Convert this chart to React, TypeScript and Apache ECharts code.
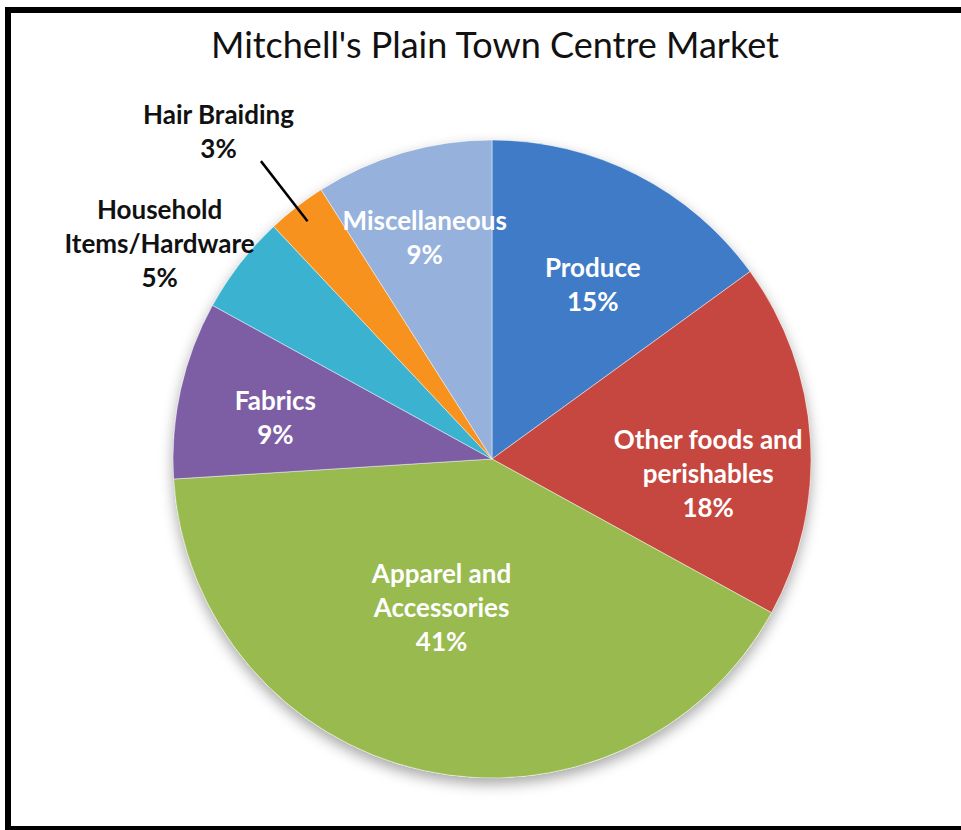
import React, { useEffect, useRef } from 'react';
import * as echarts from 'echarts';

const titleText = "Mitchell's Plain Town Centre Market";
const categories = [
  'Produce',
  'Other foods and\nperishables',
  'Apparel and\nAccessories',
  'Fabrics',
  'Household\nItems/Hardware',
  'Hair Braiding',
  'Miscellaneous',
];
const values = [15, 18, 41, 9, 5, 3, 9];
const sliceColors = ['#3F7BC6', '#C5473F', '#98BA4F', '#7D5EA5', '#3BB3D0', '#F7921E', '#96B2DC'];
const labelColors = ['#fff', '#fff', '#fff', '#fff', '#111', '#111', '#fff'];
// label offsets from the library's default label anchor
const labelOffsets = [
  [27, -30],
  [54, 24],
  [-15, -11],
  [-58, -7],
  [-204, -116],
  [-78, -76],
  [-22, -66],
];
const LEADER_INDEX = 5;
const FONT = 'Lato';

export default function App() {
  const ref = useRef<HTMLDivElement>(null);
  useEffect(() => {
    if (!ref.current) return;
    const chart = echarts.init(ref.current, null, { renderer: 'svg' });
    const pieBase = {
      type: 'pie',
      center: [492, 459],
      radius: 319,
      startAngle: 90,
      clockwise: true,
      avoidLabelOverlap: false,
      percentPrecision: 0,
    };
    const labelData = categories.map((name, i) => {
      const item: any = {
        name,
        value: values[i],
        label: { color: labelColors[i] },
      };
      if (i === LEADER_INDEX) {
        item.label.position = 'outside';
        item.labelLine = { show: true, lineStyle: { color: '#000', width: 2.5 } };
      }
      return item;
    });
    const option: any = {
      animation: false,
      backgroundColor: '#fff',
      title: {
        text: titleText,
        left: 490,
        top: 21,
        textAlign: 'center',
        textStyle: { fontFamily: FONT, fontSize: 36, fontWeight: 'normal', color: '#111' },
      },
      graphic: [
        {
          type: 'rect',
          z: 100,
          shape: { x: 8, y: 10, width: 1000, height: 819 },
          style: { fill: 'none', stroke: '#000', lineWidth: 6 },
        },
      ],
      series: [
        {
          ...pieBase,
          silent: true,
          z: 1,
          label: { show: false },
          labelLine: { show: false },
          itemStyle: {
            color: '#fff',
            shadowBlur: 14,
            shadowOffsetY: 6,
            shadowColor: 'rgba(0,0,0,0.35)',
          },
          data: values.map((v, i) => ({ name: categories[i], value: v })),
        },
        {
          ...pieBase,
          z: 2,
          label: { show: false },
          labelLine: { show: false },
          itemStyle: { borderColor: 'rgba(255,255,255,0.45)', borderWidth: 1 },
          data: values.map((v, i) => ({
            name: categories[i],
            value: v,
            itemStyle: { color: sliceColors[i] },
          })),
        },
        {
          ...pieBase,
          z: 3,
          silent: true,
          itemStyle: { color: 'rgba(0,0,0,0)' },
          label: {
            show: true,
            position: 'inside',
            formatter: '{b}\n{d}%',
            fontFamily: FONT,
            fontWeight: 'bold',
            fontSize: 26,
            lineHeight: 34,
            align: 'center',
          },
          labelLine: { show: false },
          labelLayout: (p: any) => {
            const i = p.dataIndex;
            const [ox, oy] = labelOffsets[i];
            if (i === LEADER_INDEX && p.labelLinePoints) {
              const pts = p.labelLinePoints;
              const [x0, y0] = pts[0];
              const [x1, y1] = pts[1];
              const len = Math.hypot(x1 - x0, y1 - y0) || 1;
              const ux = (x1 - x0) / len;
              const uy = (y1 - y0) / len;
              const end = [x0 + ux * 58, y0 + uy * 58];
              return {
                x: x0 + ox,
                y: y0 + oy,
                align: 'center',
                verticalAlign: 'middle',
                labelLinePoints: [[x0 - ux * 18, y0 - uy * 18], end, end],
              };
            }
            const r = p.labelRect;
            return {
              x: r.x + r.width / 2 + ox,
              y: r.y + r.height / 2 + oy,
              align: 'center',
              verticalAlign: 'middle',
            };
          },
          data: labelData,
        },
      ],
    };
    chart.setOption(option);
    return () => chart.dispose();
  }, []);
  return (
    <div
      ref={ref}
      style={{ position: 'fixed', left: 0, top: 0, width: 961, height: 830, background: '#fff' }}
    />
  );
}
